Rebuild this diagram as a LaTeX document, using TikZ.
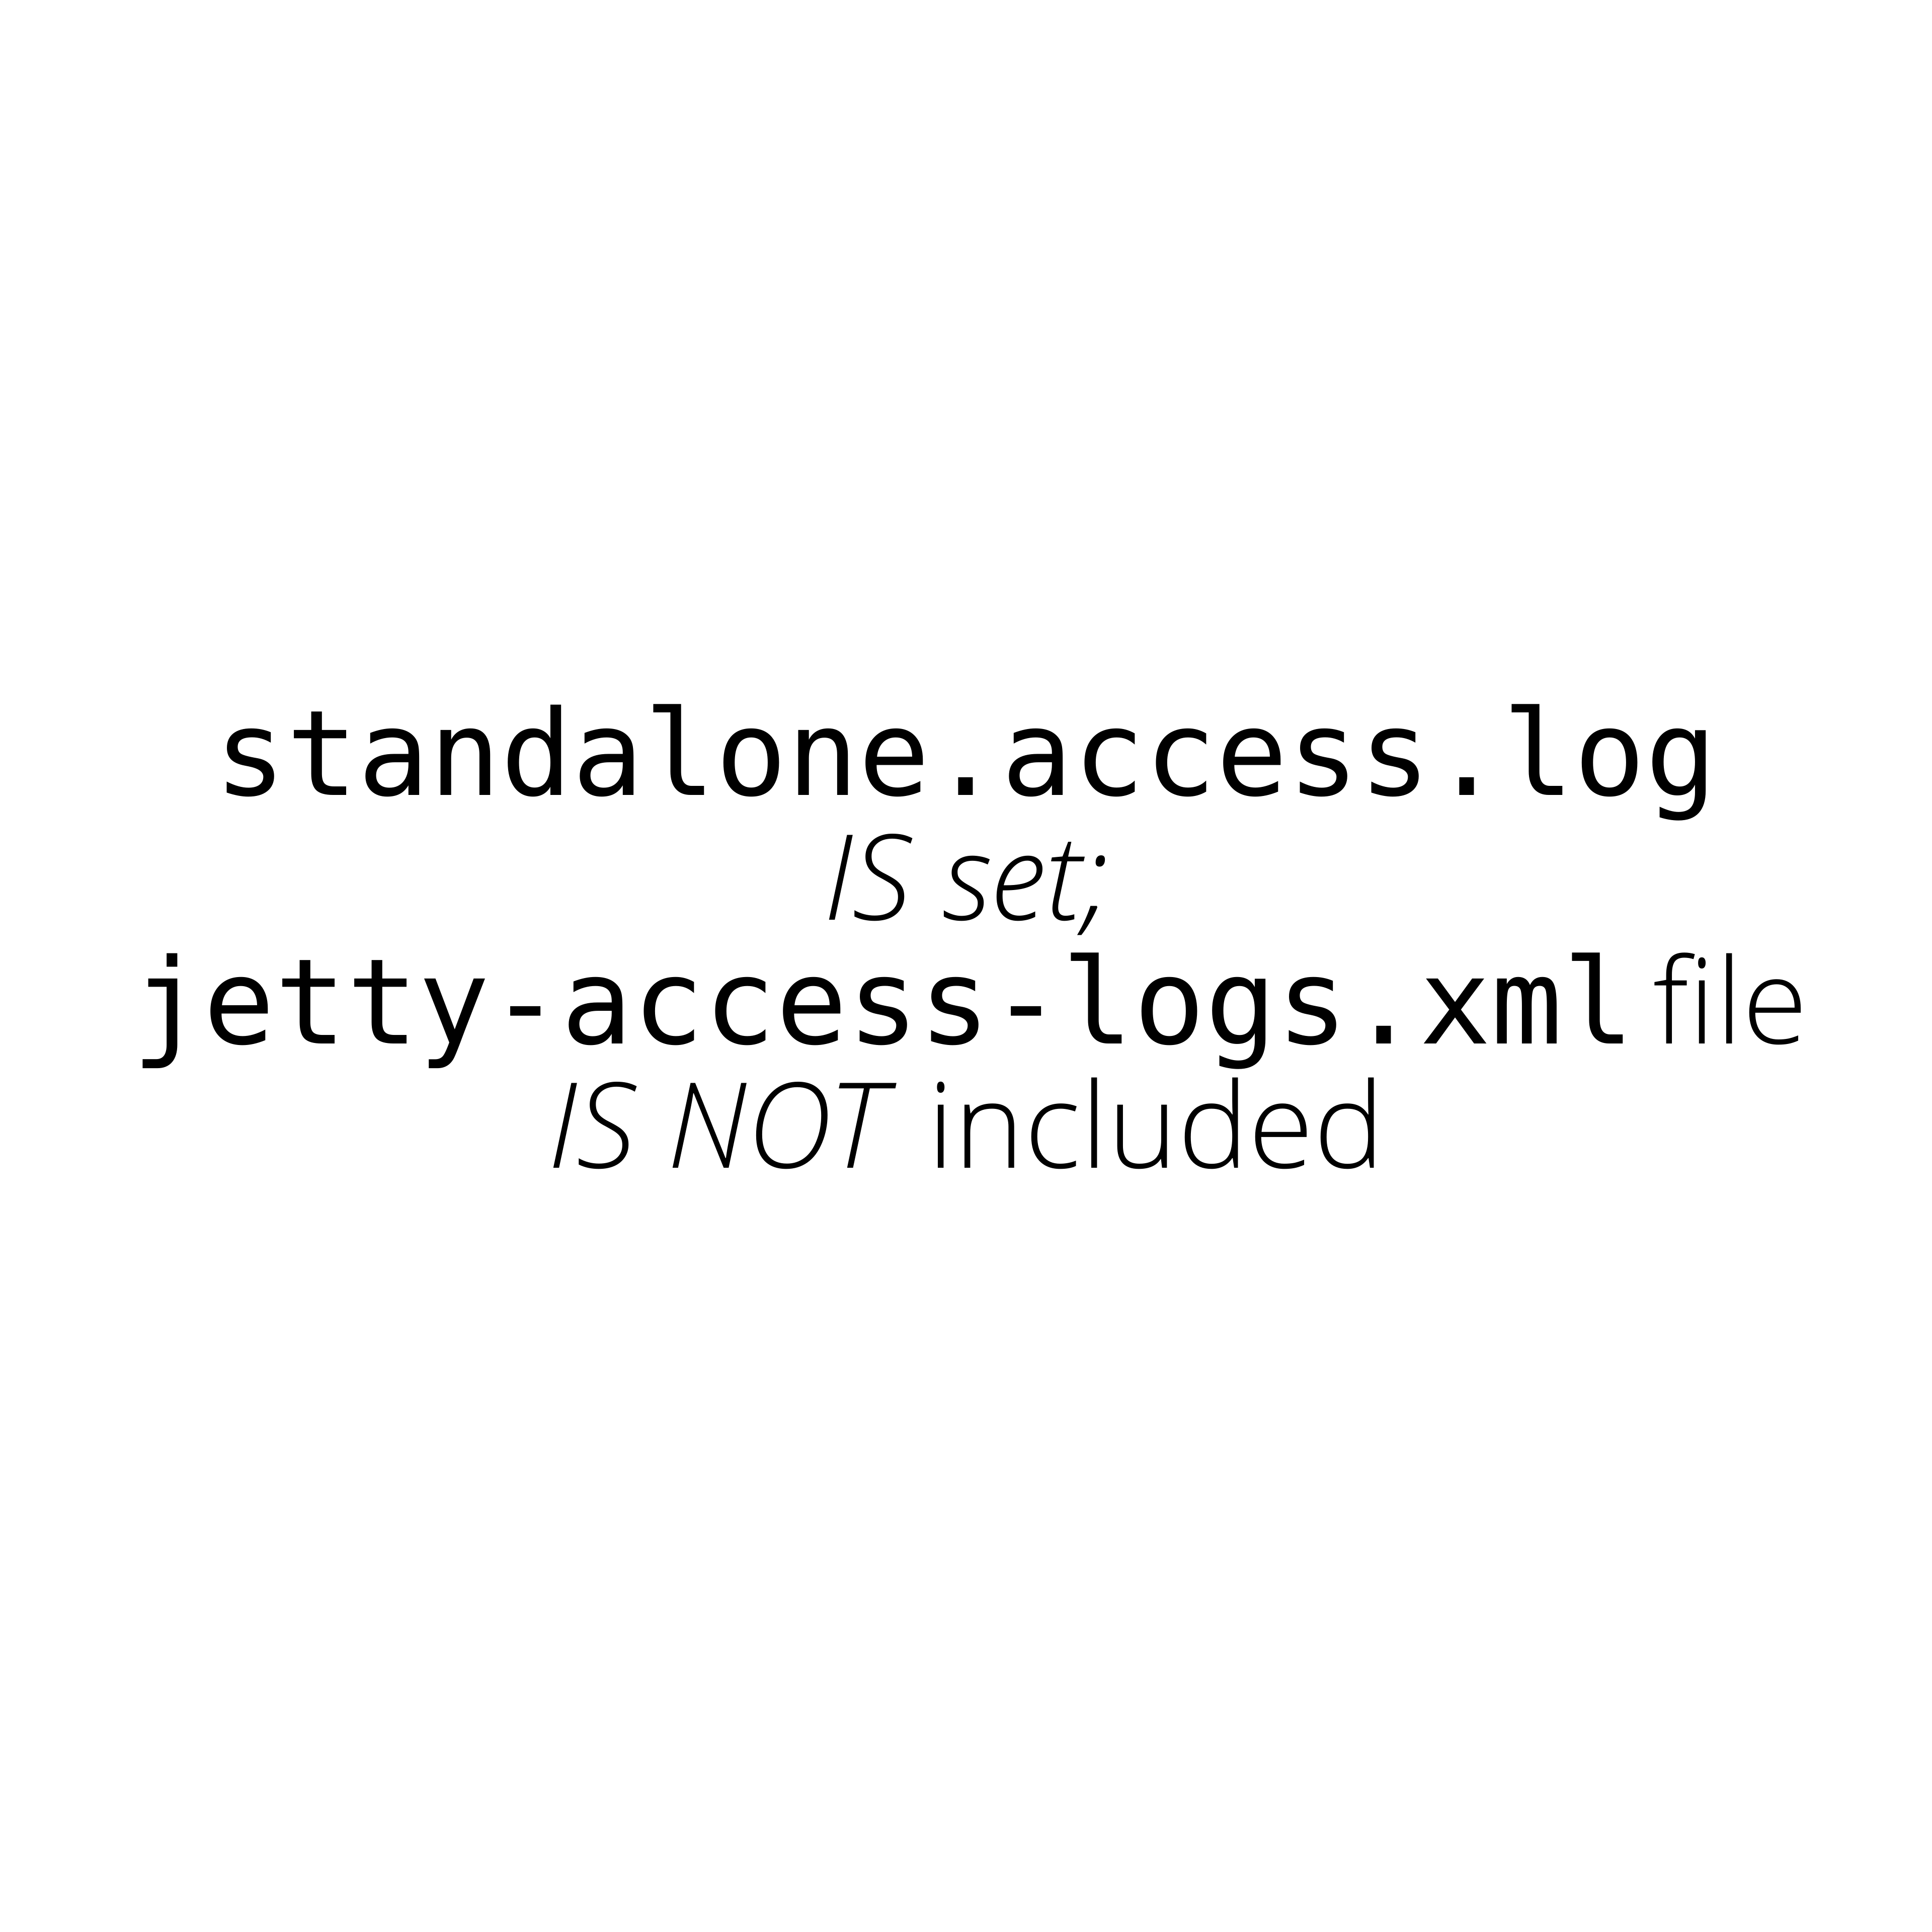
\documentclass[tikz,border=0pt]{standalone}
\usepackage{fontspec}
\setmainfont{Open Sans}[UprightFont=* Light,ItalicFont=* Light Italic]
\newfontfamily\logfont{DejaVu Sans Mono}
\usetikzlibrary{positioning}
\begin{document}
\begin{tikzpicture}
		[textline/.style={anchor=base,inner sep=0pt,font=\fontsize{35}{42}\selectfont}]
		\useasboundingbox (0,0) rectangle (20,20);
		% the two code names first
		\node[textline,name=logprop] at (10,11.768) {\logfont standalone.access.log};
		\node[textline,name=xmlname,anchor=base west] at (1.36,9.195) {\logfont jetty-access-logs.xml};
		\node[textline,name=xmlfile,right=1.8mm of xmlname.base east,anchor=base west] {file};
		\node[textline,name=isset] at (10,10.479) {\textit{IS set;}};
		\node[textline,name=notincl] at (10,7.911) {\textit{IS NOT} included};
	\end{tikzpicture}
\end{document}
